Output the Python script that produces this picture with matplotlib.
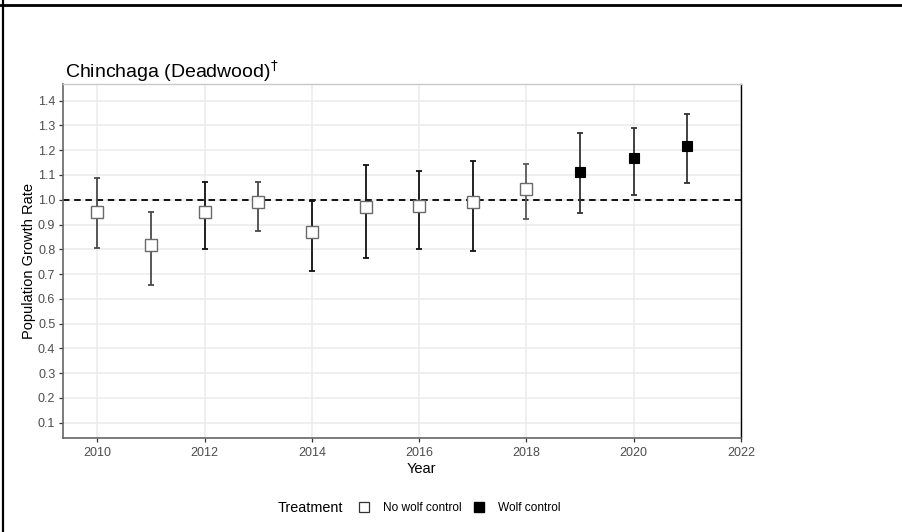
import matplotlib
matplotlib.use("Agg")
import matplotlib.pyplot as plt
from matplotlib.lines import Line2D

plt.rcParams['font.family'] = ['Liberation Sans', 'DejaVu Sans']

# Annual population growth rate estimates with confidence limits
years = [2010, 2011, 2012, 2013, 2014, 2015, 2016, 2017, 2018, 2019, 2020, 2021]
growth = [0.950, 0.818, 0.950, 0.989, 0.871, 0.969, 0.973, 0.992, 1.043, 1.114, 1.167, 1.219]
lower = [0.806, 0.657, 0.803, 0.872, 0.713, 0.765, 0.803, 0.795, 0.923, 0.948, 1.019, 1.066]
upper = [1.086, 0.949, 1.071, 1.073, 0.996, 1.140, 1.118, 1.155, 1.145, 1.268, 1.291, 1.346]
treatment = ["No wolf control"] * 9 + ["Wolf control"] * 3

x_ticks = [2010, 2012, 2014, 2016, 2018, 2020, 2022]
y_ticks = [0.1, 0.2, 0.3, 0.4, 0.5, 0.6, 0.7, 0.8, 0.9, 1.0, 1.1, 1.2, 1.3, 1.4]

# whisker shades per year
bar_colors = ['#4a4a4a', '#4a4a4a', '#111111', '#4a4a4a', '#111111', '#111111',
              '#111111', '#111111', '#5a5a5a', '#333333', '#333333', '#333333']

fig = plt.figure(figsize=(9.03, 5.32), dpi=100)
ax = fig.add_axes([63 / 903, 1 - 438 / 532, (741 - 63) / 903, (438 - 84) / 532])

ax.set_xlim(2009.36, 2022)
ax.set_ylim(0.038, 1.4674)

ax.set_xticks(x_ticks)
ax.set_yticks(y_ticks)
ax.set_xticklabels([str(t) for t in x_ticks])
ax.set_yticklabels([f"{t:.1f}" for t in y_ticks])
ax.grid(True, color='#ebebeb', linewidth=1.1, zorder=0)
ax.set_axisbelow(True)

ax.axhline(1.0, color='black', linestyle=(0, (3.6, 2.6)), linewidth=1.3, zorder=2)

for yr, g, lo, hi, tr, c in zip(years, growth, lower, upper, treatment, bar_colors):
    ax.errorbar([yr], [g], yerr=[[g - lo], [hi - g]], fmt='none', ecolor=c,
                elinewidth=1.3, capsize=2.4, capthick=1.3, zorder=3)
    if tr == "No wolf control":
        ax.plot([yr], [g], marker='s', markersize=8, markerfacecolor='white',
                markeredgecolor='#6a6a6a', markeredgewidth=1.0, linestyle='none', zorder=4)
    else:
        ax.plot([yr], [g], marker='s', markersize=7.6, markerfacecolor='black',
                markeredgecolor='black', markeredgewidth=0.8, linestyle='none', zorder=4)

ax.tick_params(axis='both', colors='#333333', labelcolor='#4d4d4d', labelsize=9,
               length=3, width=0.9)
ax.tick_params(axis='x', pad=3.5)
ax.tick_params(axis='y', pad=2.5)

for side in ['left', 'bottom']:
    ax.spines[side].set_color('#666666')
    ax.spines[side].set_linewidth(1.2)
ax.spines['top'].set_color('#c8c8c8')
ax.spines['top'].set_linewidth(1.0)
ax.spines['right'].set_color('black')
ax.spines['right'].set_linewidth(1.0)

fig.text(29 / 903, 1 - 261 / 532, "Population Growth Rate", fontsize=10.5,
         rotation=90, ha='center', va='center')
fig.text(421 / 903, 1 - 473 / 532, "Year", fontsize=10.5, ha='center', va='baseline')

fig.text(65 / 903, 1 - 71 / 532, "Chinchaga (Deadwood)$^{\\dagger}$", fontsize=14,
         ha='left', va='center')

# legend row
fig.text(278 / 903, 1 - 508 / 532, "Treatment", fontsize=10.4, ha='left', va='center')
handles = [
    Line2D([], [], marker='s', markersize=7, markerfacecolor='white',
           markeredgecolor='#333333', markeredgewidth=0.9, linestyle='none'),
    Line2D([], [], marker='s', markersize=7, markerfacecolor='black',
           markeredgecolor='black', linestyle='none'),
]
fig.legend(handles, ["No wolf control", "Wolf control"], ncol=2, frameon=False,
           loc='center left', bbox_to_anchor=(358 / 903, 1 - 508 / 532),
           fontsize=8.6, handlelength=1.0, handletextpad=1.1, columnspacing=0.95,
           borderpad=0, borderaxespad=0)

# frame lines along the top and left edges of the figure
fig.add_artist(Line2D([0, 1], [1 - 5.3 / 532, 1 - 5.3 / 532], transform=fig.transFigure,
                      color='black', linewidth=2.0))
fig.add_artist(Line2D([3.5 / 903, 3.5 / 903], [0, 1], transform=fig.transFigure,
                      color='black', linewidth=1.6))

fig.savefig("out.png", dpi=100)
